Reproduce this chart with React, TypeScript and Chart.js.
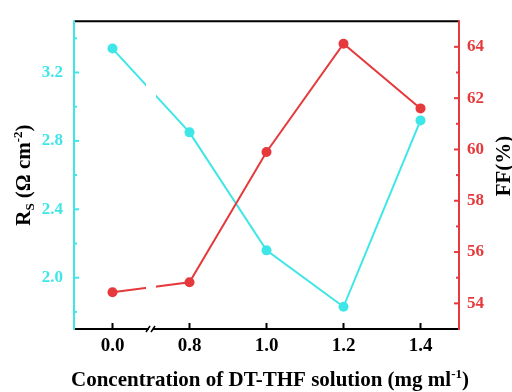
import React, { useEffect, useRef } from "react";
import { Chart, registerables } from "chart.js";

Chart.register(...registerables);

const categories = ["0.0", "0.8", "1.0", "1.2", "1.4"];
const rsValues = [3.34, 2.85, 2.16, 1.83, 2.92];
const ffValues = [54.43, 54.82, 59.9, 64.12, 61.6];
const rsTicks = [2.0, 2.4, 2.8, 3.2];
const rsMinorTicks = [1.8, 2.2, 2.6, 3.0, 3.4];
const ffTicks = [54, 56, 58, 60, 62, 64];
const ffMinorTicks = [55, 57, 59, 61, 63];

const CYAN = "#3fe6e8";
const RED = "#e6393c";
const FONT = "'Liberation Serif', 'Times New Roman', serif";

const decorPlugin = {
  id: "decor",
  afterDatasetsDraw(chart: any) {
    const { ctx, chartArea, scales } = chart;
    const { top, bottom } = chartArea;
    const x = scales.x;
    const breakX = (x.getPixelForTick(0) + x.getPixelForTick(1)) / 2;
    ctx.save();
    ctx.fillStyle = "#ffffff";
    ctx.fillRect(breakX - 5, top + 2, 10, bottom - top - 3);
    ctx.restore();
  },
  afterDraw(chart: any) {
    const { ctx, chartArea, scales } = chart;
    const { left, right, top, bottom } = chartArea;
    const x = scales.x;
    const y = scales.y;
    const y1 = scales.y1;
    ctx.save();
    ctx.lineCap = "butt";
    ctx.strokeStyle = "#000";
    ctx.lineWidth = 2;
    ctx.beginPath();
    ctx.moveTo(left, top);
    ctx.lineTo(right, top);
    ctx.stroke();
    ctx.beginPath();
    ctx.moveTo(left, bottom);
    ctx.lineTo(right, bottom);
    ctx.stroke();
    for (let i = 0; i < categories.length; i++) {
      const px = x.getPixelForTick(i);
      ctx.beginPath();
      ctx.moveTo(px, bottom);
      ctx.lineTo(px, bottom - 6);
      ctx.stroke();
    }
    const breakX = (x.getPixelForTick(0) + x.getPixelForTick(1)) / 2;
    ctx.fillStyle = "#fff";
    ctx.fillRect(breakX - 2, bottom - 2, 4, 4);
    ctx.lineWidth = 1.5;
    for (const off of [-3, 2]) {
      ctx.beginPath();
      ctx.moveTo(breakX + off - 2, bottom + 3);
      ctx.lineTo(breakX + off + 2, bottom - 3);
      ctx.stroke();
    }
    ctx.strokeStyle = CYAN;
    ctx.lineWidth = 2;
    ctx.beginPath();
    ctx.moveTo(left, top - 1);
    ctx.lineTo(left, bottom + 1);
    ctx.stroke();
    for (const v of rsTicks) {
      const py = y.getPixelForValue(v);
      ctx.beginPath();
      ctx.moveTo(left, py);
      ctx.lineTo(left + 5, py);
      ctx.stroke();
    }
    for (const v of rsMinorTicks) {
      const py = y.getPixelForValue(v);
      ctx.beginPath();
      ctx.moveTo(left, py);
      ctx.lineTo(left + 3, py);
      ctx.stroke();
    }
    ctx.strokeStyle = RED;
    ctx.beginPath();
    ctx.moveTo(right, top - 1);
    ctx.lineTo(right, bottom + 1);
    ctx.stroke();
    for (const v of ffTicks) {
      const py = y1.getPixelForValue(v);
      ctx.beginPath();
      ctx.moveTo(right, py);
      ctx.lineTo(right - 5, py);
      ctx.stroke();
    }
    for (const v of ffMinorTicks) {
      const py = y1.getPixelForValue(v);
      ctx.beginPath();
      ctx.moveTo(right, py);
      ctx.lineTo(right - 3, py);
      ctx.stroke();
    }

    ctx.fillStyle = "#000";
    const big = `bold 21px ${FONT}`;
    const small = `bold 13px ${FONT}`;
    {
      const parts = [
        { t: "Concentration of DT-THF solution (mg ml", f: big, dy: 0 },
        { t: "-1", f: small, dy: -8 },
        { t: ")", f: big, dy: 0 },
      ];
      let w = 0;
      for (const p of parts) {
        ctx.font = p.f;
        w += ctx.measureText(p.t).width;
      }
      let cx = 270 - w / 2;
      const by = 386;
      ctx.textBaseline = "alphabetic";
      ctx.textAlign = "left";
      for (const p of parts) {
        ctx.font = p.f;
        ctx.fillText(p.t, cx, by + p.dy);
        cx += ctx.measureText(p.t).width;
      }
    }
    {
      const parts = [
        { t: "R", f: big, dy: 0 },
        { t: "S", f: small, dy: 4 },
        { t: " (\u03A9 cm", f: big, dy: 0 },
        { t: "-2", f: small, dy: -8 },
        { t: ")", f: big, dy: 0 },
      ];
      let w = 0;
      for (const p of parts) {
        ctx.font = p.f;
        w += ctx.measureText(p.t).width;
      }
      ctx.save();
      ctx.translate(30, (top + bottom) / 2);
      ctx.rotate(-Math.PI / 2);
      let cx = -w / 2;
      ctx.textBaseline = "alphabetic";
      ctx.textAlign = "left";
      for (const p of parts) {
        ctx.font = p.f;
        ctx.fillText(p.t, cx, p.dy);
        cx += ctx.measureText(p.t).width;
      }
      ctx.restore();
    }
    {
      ctx.save();
      ctx.translate(510, 166);
      ctx.rotate(-Math.PI / 2);
      ctx.font = big;
      ctx.textAlign = "center";
      ctx.textBaseline = "alphabetic";
      ctx.fillText("FF(%)", 0, 0);
      ctx.restore();
    }
    ctx.restore();
  },
};

export default function App() {
  const canvasRef = useRef<HTMLCanvasElement | null>(null);

  useEffect(() => {
    if (!canvasRef.current) return;
    const chart = new Chart(canvasRef.current, {
      type: "line",
      data: {
        labels: categories,
        datasets: [
          {
            label: "Rs",
            data: rsValues,
            yAxisID: "y",
            borderColor: CYAN,
            backgroundColor: CYAN,
            borderWidth: 2,
            pointRadius: 5,
            pointBorderWidth: 0,
            pointBackgroundColor: CYAN,
            tension: 0,
            order: 2,
          },
          {
            label: "FF",
            data: ffValues,
            yAxisID: "y1",
            borderColor: RED,
            backgroundColor: RED,
            borderWidth: 2,
            pointRadius: 5,
            pointBorderWidth: 0,
            pointBackgroundColor: RED,
            tension: 0,
            order: 1,
          },
        ],
      },
      options: {
        animation: false,
        responsive: false,
        maintainAspectRatio: false,
        layout: { padding: { top: 16, left: 0, right: 0, bottom: 0 } },
        plugins: {
          legend: { display: false },
          tooltip: { enabled: false },
        },
        scales: {
          x: {
            type: "category",
            offset: true,
            grid: { display: false, drawTicks: false },
            border: { display: false },
            ticks: {
              color: "#000",
              padding: 6,
              font: { family: FONT, size: 19, weight: "bold" },
            },
            afterFit: (s: any) => {
              s.height = 63;
            },
          },
          y: {
            type: "linear",
            position: "left",
            min: 1.7,
            max: 3.5,
            grid: { display: false, drawTicks: false },
            border: { display: false },
            afterBuildTicks: (s: any) => {
              s.ticks = rsTicks.map((v) => ({ value: v }));
            },
            ticks: {
              color: CYAN,
              padding: 11,
              font: { family: FONT, size: 17, weight: "bold" },
              callback: (v: any) => Number(v).toFixed(1),
            },
            afterFit: (s: any) => {
              s.width = 74;
            },
          },
          y1: {
            type: "linear",
            position: "right",
            min: 53,
            max: 65,
            grid: { display: false, drawTicks: false },
            border: { display: false },
            afterBuildTicks: (s: any) => {
              s.ticks = ffTicks.map((v) => ({ value: v }));
            },
            ticks: {
              color: RED,
              padding: 8,
              font: { family: FONT, size: 17, weight: "bold" },
              callback: (v: any) => String(v),
            },
            afterFit: (s: any) => {
              s.width = 53;
            },
          },
        },
      },
      plugins: [decorPlugin],
    } as any);
    return () => chart.destroy();
  }, []);

  return (
    <div style={{ position: "fixed", left: 0, top: 0, width: 512, height: 392, background: "#fff" }}>
      <canvas ref={canvasRef} width={512} height={392} style={{ width: 512, height: 392 }} />
    </div>
  );
}
